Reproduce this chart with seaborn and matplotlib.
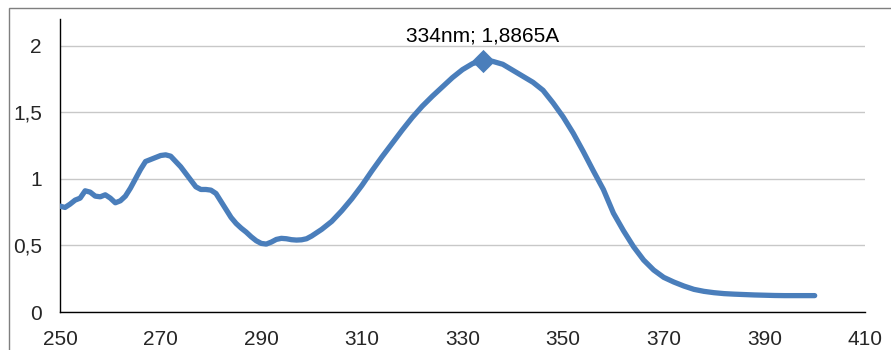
import numpy as np
import pandas as pd
import matplotlib
matplotlib.use("Agg")
import matplotlib.pyplot as plt
import matplotlib.patches as mpatches
import seaborn as sns

wavelength = [250, 251, 252, 253, 254, 255, 256, 257, 258, 259,
              260, 261, 262, 263, 264, 265, 266, 267, 268, 269,
              270, 271, 272, 273, 274, 275, 276, 277, 278, 279,
              280, 281, 282, 283, 284, 285, 286, 287, 288, 289,
              290, 291, 292, 293, 294, 295, 296, 297, 298, 299,
              300, 302, 304, 306, 308, 310, 312, 314, 316, 318,
              320, 322, 324, 326, 328, 330, 332, 334, 336, 338,
              340, 342, 344, 346, 348, 350, 352, 354, 356, 358,
              360, 362, 364, 366, 368, 370, 372, 374, 376, 378,
              380, 382, 384, 386, 388, 390, 392, 394, 396, 398, 400]
absorbance = [0.795, 0.785, 0.81, 0.84, 0.855, 0.91, 0.90, 0.87, 0.865, 0.88,
              0.855, 0.82, 0.835, 0.87, 0.93, 1.00, 1.07, 1.13, 1.145, 1.16,
              1.175, 1.18, 1.17, 1.13, 1.09, 1.04, 0.99, 0.94, 0.92, 0.92,
              0.915, 0.89, 0.83, 0.77, 0.71, 0.665, 0.63, 0.60, 0.565, 0.535,
              0.515, 0.51, 0.525, 0.545, 0.553, 0.55, 0.543, 0.54, 0.542, 0.55,
              0.57, 0.62, 0.68, 0.76, 0.85, 0.95, 1.06, 1.165, 1.265, 1.365,
              1.46, 1.545, 1.62, 1.69, 1.76, 1.82, 1.865, 1.8865, 1.882, 1.86,
              1.815, 1.77, 1.725, 1.665, 1.57, 1.465, 1.343, 1.205, 1.06, 0.92,
              0.742, 0.61, 0.49, 0.39, 0.315, 0.26, 0.225, 0.195, 0.17, 0.155,
              0.145, 0.138, 0.134, 0.131, 0.128, 0.126, 0.124, 0.123, 0.123, 0.123, 0.123]

peak_x = [334]
peak_y = [1.8865]
peak_label = "334nm; 1,8865A"

x_ticks = [250, 270, 290, 310, 330, 350, 370, 390, 410]
y_ticks = [0, 0.5, 1, 1.5, 2]
y_tick_labels = ["0", "0,5", "1", "1,5", "2"]

sns.set_style("white")
plt.rcParams['font.family'] = ['Liberation Sans', 'DejaVu Sans']

W, H = 891, 350
fig = plt.figure(figsize=(W / 100, H / 100), dpi=100)
ax = fig.add_axes([60 / W, 1 - 312 / H, (865 - 60) / W, (312 - 19) / H])

# outer chart frame
fig.patches.append(mpatches.Rectangle((8.5 / W, -0.5), 2, 1 - 7.5 / H + 0.5,
                                      transform=fig.transFigure, fill=False,
                                      edgecolor='#7f7f7f', linewidth=1.0))

color = '#4a7ebb'
df = pd.DataFrame({"wl": wavelength, "abs": absorbance})
sns.lineplot(data=df, x="wl", y="abs", ax=ax, color=color, linewidth=3.8,
             solid_capstyle='round', solid_joinstyle='round', zorder=3)
pk = pd.DataFrame({"wl": peak_x, "abs": peak_y})
sns.scatterplot(data=pk, x="wl", y="abs", ax=ax, marker='D', s=140,
                color=color, edgecolor=color, linewidth=0, zorder=4)
ax.annotate(peak_label, (peak_x[0], peak_y[0]), xytext=(0, 11),
            textcoords='offset points', ha='center', va='bottom', fontsize=15,
            color='#000000')

ax.set_xlim(250, 410)
ax.set_ylim(0, 2.2)
ax.set_xticks(x_ticks)
ax.set_xticklabels([str(t) for t in x_ticks])
ax.set_yticks(y_ticks)
ax.set_yticklabels(y_tick_labels)
ax.set_xlabel("")
ax.set_ylabel("")

ax.grid(axis='y', color='#c8c8c8', linewidth=1.0)
ax.grid(axis='x', visible=False)
ax.set_axisbelow(True)
for s in ['top', 'right']:
    ax.spines[s].set_visible(False)
for s in ['left', 'bottom']:
    ax.spines[s].set_color('black')
    ax.spines[s].set_linewidth(1.0)

ax.tick_params(axis='x', direction='out', length=5, width=1, color='black',
               labelsize=15, pad=8)
ax.tick_params(axis='y', direction='out', length=5, width=1, color='#8c8c8c',
               labelsize=15, pad=8)

fig.savefig("out.png", dpi=100)
